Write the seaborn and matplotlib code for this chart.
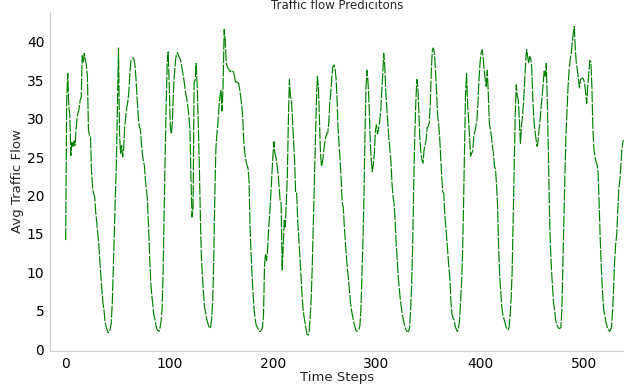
import numpy as np
import pandas as pd
import matplotlib
matplotlib.use("Agg")
import matplotlib.pyplot as plt
import seaborn as sns

# Avg traffic flow, one value per time step (0..539)
avg_flow = [
    14.2, 32.4, 35.9, 31.6, 30.5, 25.2, 26.9, 26.3, 27.1, 26.5,
    28.5, 30.1, 30.8, 31.3, 32.4, 32.8, 38.2, 37.4, 38.5, 37.6,
    37.0, 35.5, 28.5, 27.9, 27.7, 23.0, 21.0, 20.2, 19.9, 17.8,
    16.5, 15.0, 13.5, 11.5, 9.5, 7.8, 6.0, 5.1, 3.6, 2.9,
    2.5, 2.1, 2.2, 2.6, 3.4, 6.0, 10.5, 15.5, 20.0, 24.5,
    32.0, 39.2, 28.0, 25.5, 26.5, 25.0, 26.0, 29.0, 30.3, 31.5,
    32.2, 33.5, 35.9, 37.6, 37.8, 37.9, 37.7, 36.8, 35.0, 32.5,
    30.5, 29.0, 28.7, 27.0, 25.5, 24.5, 23.9, 22.0, 20.8, 19.2,
    16.0, 12.5, 9.0, 7.2, 6.0, 4.5, 4.0, 3.2, 2.6, 2.4,
    2.3, 2.7, 3.5, 5.0, 9.5, 17.5, 25.0, 31.5, 37.0, 38.7,
    34.2, 29.0, 28.0, 29.4, 33.5, 35.8, 37.5, 38.5, 38.6, 38.2,
    37.9, 37.6, 36.8, 36.0, 35.2, 34.2, 33.2, 32.5, 31.5, 30.2,
    28.6, 22.0, 17.2, 18.5, 34.6, 35.1, 37.2, 34.2, 29.5, 24.0,
    17.5, 12.0, 9.5, 7.5, 5.5, 4.8, 4.0, 3.5, 3.0, 2.7,
    2.9, 4.0, 6.5, 12.0, 20.0, 26.0, 28.0, 29.5, 31.5, 33.0,
    33.7, 31.0, 34.5, 41.6, 40.3, 37.2, 36.8, 36.5, 36.3, 36.1,
    36.3, 36.2, 36.1, 35.5, 34.6, 34.8, 34.7, 34.6, 33.8, 32.8,
    31.6, 30.0, 26.8, 25.5, 24.5, 24.0, 23.6, 22.0, 16.0, 12.4,
    9.5, 7.0, 5.0, 3.8, 3.1, 2.8, 2.6, 2.3, 2.3, 2.5,
    2.8, 4.5, 11.0, 12.4, 11.5, 13.0, 15.9, 17.5, 20.0, 22.5,
    25.0, 27.0, 25.5, 25.0, 24.0, 23.0, 21.2, 19.4, 19.0, 10.3,
    13.3, 16.8, 15.9, 19.0, 22.5, 29.8, 35.1, 32.9, 32.4, 29.8,
    27.2, 24.6, 20.3, 20.3, 16.8, 14.6, 12.5, 10.0, 7.5, 5.5,
    4.3, 3.5, 2.6, 1.9, 1.8, 2.3, 4.0, 6.5, 10.5, 16.0,
    22.0, 27.0, 32.0, 35.5, 34.2, 29.8, 25.5, 23.8, 24.4, 25.6,
    26.8, 27.5, 28.1, 28.1, 29.5, 32.0, 33.5, 35.5, 36.8, 37.0,
    36.6, 35.3, 32.4, 28.6, 26.5, 24.5, 22.0, 19.0, 18.5, 16.0,
    14.0, 12.0, 10.5, 9.2, 7.5, 6.0, 5.0, 4.3, 3.6, 3.0,
    2.5, 2.3, 2.4, 2.5, 3.0, 5.0, 9.5, 14.0, 20.0, 28.5,
    34.2, 36.3, 34.5, 31.6, 27.2, 24.6, 23.1, 24.0, 25.5, 28.4,
    29.2, 28.0, 28.6, 29.5, 30.7, 33.3, 35.5, 38.5, 37.0, 33.5,
    31.5, 29.3, 27.5, 26.0, 24.5, 21.6, 19.9, 19.0, 16.8, 13.8,
    11.8, 9.5, 8.0, 6.5, 5.5, 4.5, 3.8, 3.2, 2.7, 2.4,
    2.3, 2.3, 2.8, 5.0, 8.5, 13.5, 21.2, 27.7, 32.0, 35.1,
    34.2, 30.7, 27.2, 25.5, 24.6, 24.2, 26.0, 26.6, 27.3, 28.8,
    29.0, 29.5, 32.0, 36.3, 39.0, 39.2, 38.5, 36.3, 33.7, 30.5,
    29.4, 27.7, 25.0, 22.5, 20.5, 20.3, 17.5, 15.9, 14.2, 12.4,
    10.5, 9.0, 6.0, 4.5, 4.0, 3.8, 3.0, 2.6, 2.3, 2.5,
    3.5, 5.5, 8.0, 11.5, 18.0, 25.5, 33.0, 35.9, 32.0, 29.8,
    27.2, 25.1, 25.5, 25.8, 27.7, 28.3, 29.0, 29.8, 32.0, 35.1,
    37.2, 38.5, 39.0, 38.1, 36.3, 35.1, 34.2, 36.3, 33.3, 29.4,
    28.6, 27.7, 26.4, 25.5, 23.8, 23.4, 21.2, 18.5, 13.0, 9.5,
    7.5, 5.5, 4.5, 4.0, 3.5, 2.9, 2.6, 2.5, 2.8, 4.3,
    6.5, 10.0, 17.0, 24.0, 30.5, 34.4, 32.9, 32.4, 29.8, 26.8,
    29.0, 30.3, 32.0, 34.6, 37.2, 39.0, 38.1, 37.2, 38.1, 37.8,
    36.5, 32.5, 29.8, 28.5, 27.5, 26.4, 27.0, 28.6, 29.8, 31.5,
    32.9, 34.6, 36.3, 35.5, 37.2, 32.0, 25.5, 18.1, 13.3, 10.3,
    8.1, 6.0, 5.1, 3.8, 3.2, 2.9, 2.7, 2.7, 2.8, 5.0,
    11.0, 17.0, 23.0, 28.0, 31.0, 34.2, 36.3, 37.6, 38.5, 39.8,
    41.1, 42.0, 39.0, 37.2, 36.3, 35.1, 34.0, 35.1, 35.2, 35.3,
    35.1, 34.6, 33.3, 32.0, 34.2, 35.9, 37.6, 37.4, 34.2, 28.5,
    26.0, 25.0, 24.4, 24.0, 23.0, 19.0, 14.5, 11.0, 8.0, 5.8,
    4.6, 4.0, 3.2, 2.8, 2.5, 2.3, 2.5, 2.9, 5.1, 8.1,
    11.6, 13.7, 15.0, 18.0, 21.0, 22.0, 24.0, 26.0, 27.0, 27.2,
]
time_steps = list(range(len(avg_flow)))
x_ticks = [0, 100, 200, 300, 400, 500]
y_ticks = [0, 5, 10, 15, 20, 25, 30, 35, 40]

df = pd.DataFrame({"Time Steps": time_steps, "Avg Traffic Flow": avg_flow})

sns.set_style("white")
plt.rcParams['font.family'] = ['DejaVu Sans']

fig = plt.figure(figsize=(6.24, 3.84), dpi=100)
ax = fig.add_axes([0.080, 0.086, 0.920, 0.883])

sns.lineplot(data=df, x="Time Steps", y="Avg Traffic Flow", ax=ax,
             color="green", linewidth=0.85, linestyle=(0, (10, 1.3)))

ax.set_xlim(-15.2, 539)
ax.set_ylim(-0.25, 43.9)
ax.set_xticks(x_ticks)
ax.set_yticks(y_ticks)
ax.tick_params(axis="both", labelsize=10, labelcolor="black", length=2,
               width=0.8, color="#cccccc", pad=2)
ax.set_title("Traffic flow Predicitons", fontsize=8.5, pad=2)
ax.set_xlabel("Time Steps", fontsize=9.5, labelpad=0)
ax.set_ylabel("Avg Traffic Flow", fontsize=9.5, labelpad=2)
sns.despine(ax=ax)
for s in ["left", "bottom"]:
    ax.spines[s].set_color("#cccccc")

fig.savefig("out.png", dpi=100)
